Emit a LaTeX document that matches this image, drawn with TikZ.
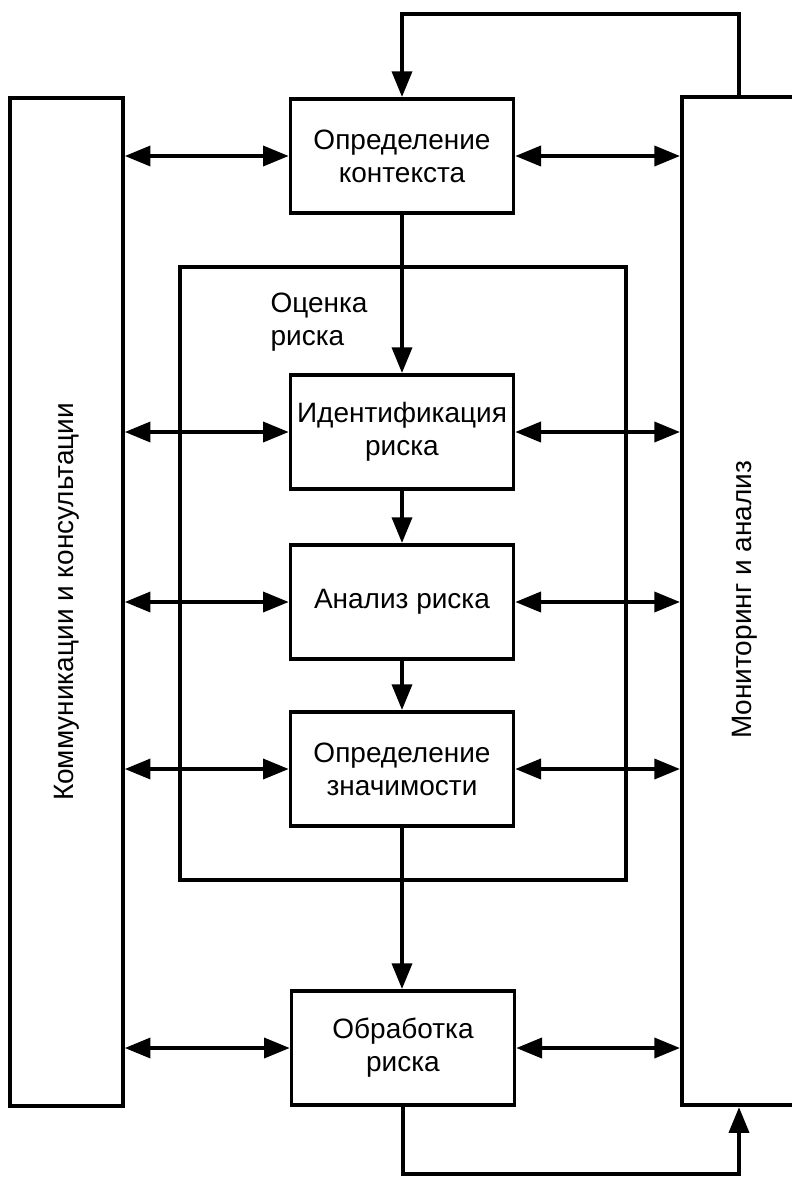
\documentclass[tikz,border=0pt]{standalone}
\usepackage{fontspec}
\setmainfont{Liberation Sans}
\usetikzlibrary{arrows.meta}

\begin{document}
\begin{tikzpicture}[x=0.35pt,y=-0.35pt,
    font=\fontsize{9.8}{11.6}\selectfont,
    box/.style={draw,line width=1.3pt,minimum width=78pt,minimum height=40pt,inner sep=0pt,align=center},
    side/.style={draw,line width=1.3pt,minimum height=353pt,inner sep=0pt},
    link/.style={line width=1.3pt,-{Triangle[length=9pt,width=7pt]}},
    both/.style={line width=1.3pt,{Triangle[length=9pt,width=7pt]}-{Triangle[length=9pt,width=7pt]}}]
  \useasboundingbox (0,0) rectangle (792,1177);
  % side columns
  \node[side,minimum width=39.5pt] (comm) at (66.5,602) {};
  \node[side,minimum width=40pt] (mon) at (739,601) {};
  \node[rotate=90] at (comm.center) {Коммуникации и консультации};
  \node[rotate=90] at (745,600) {Мониторинг и анализ};
  % risk assessment frame
  \draw[line width=1.3pt] (180,267) rectangle (626,880);
  \node[anchor=north west,align=left,inner sep=0pt] (assess) at (270,292) {Оценка\\риска};
  % process boxes
  \node[box] (ctx) at (402,156) {Определение\\контекста};
  \node[box] (ident) at (402,432) {Идентификация\\риска};
  \node[box] (anal) at (402,602) {Анализ риска};
  \node[box] (signif) at (402,769) {Определение\\значимости};
  \node[box] (treat) at (403,1048) {Обработка\\риска};
  % main flow
  \draw[link] (ctx) -- (ident);
  \draw[link] (ident) -- (anal);
  \draw[link] (anal) -- (signif);
  \draw[link] (signif.south) -- (signif.south |- treat.north);
  % exchange with side columns
  \foreach \b in {ctx,ident,anal,signif,treat}{
    \draw[both] (comm.east |- \b) -- (\b.west);
    \draw[both] (\b.east) -- (mon.west |- \b);
  }
  % feedback loops
  \coordinate (top) at (0,14);
  \coordinate (bot) at (0,1174);
  \draw[link] (mon.north) |- (ctx.north |- top) -- (ctx.north);
  \draw[link] (treat.south) |- (mon.south |- bot) -- (mon.south);
\end{tikzpicture}
\end{document}
